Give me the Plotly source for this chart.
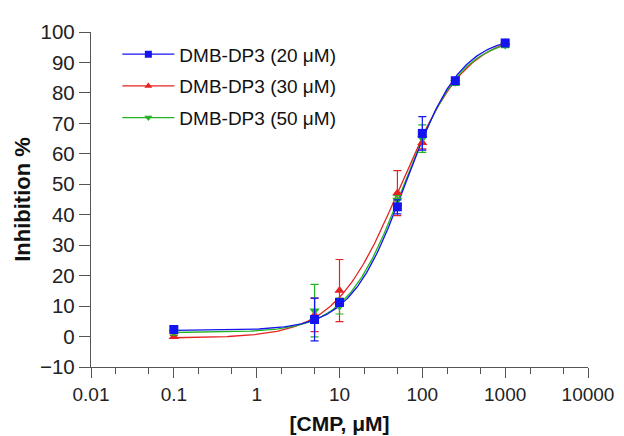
import numpy as np
import plotly.graph_objects as go

# Concentrations (µM)
conc = [0.1, 5, 10, 50, 100, 250, 1000]

# Mean inhibition (%) and SD for each series
blue_y = [2.3, 5.6, 11.2, 42.6, 66.7, 84.0, 96.4]
blue_err = [1.3, 7.0, 1.3, 2.3, 5.5, 1.0, 0.8]
red_y = [-0.1, 7.1, 15.1, 47.1, 63.6, 83.5, 96.5]
red_err = [0.5, 5.5, 10.2, 7.4, 2.0, 1.0, 0.8]
green_y = [1.5, 8.5, 10.0, 44.8, 65.0, 83.5, 95.7]
green_err = [1.0, 8.6, 2.6, 1.5, 4.5, 1.0, 0.8]

names = ["DMB-DP3 (20 μM)", "DMB-DP3 (30 μM)", "DMB-DP3 (50 μM)"]
colors = ["#1414F0", "#E52222", "#22B422"]
symbols = ["square", "triangle-up", "triangle-down"]

# Four-parameter logistic fit parameters:
# bottom, top, EC50 (µM), Hill slope
fit_blue = (2.0, 99.0, 63.0, 1.3)
fit_red = (-0.5, 100.0, 55.0, 1.1)
fit_green = (1.3, 98.5, 60.0, 1.25)

x_ticks = [0.01, 0.1, 1, 10, 100, 1000, 10000]
x_ticklabels = ["0.01", "0.1", "1", "10", "100", "1000", "10000"]
y_ticks = list(range(-10, 101, 10))

FONT = "Arial, Liberation Sans, sans-serif"


def logistic(x, p):
    b, t, ec, h = p
    x = np.asarray(x, dtype=float)
    return b + (t - b) / (1 + (ec / x) ** h)


xs = np.logspace(-1, 3, 300)

series = [
    (blue_y, blue_err, fit_blue),
    (red_y, red_err, fit_red),
    (green_y, green_err, fit_green),
]

fig = go.Figure()

# legend entries
for i in range(3):
    fig.add_trace(go.Scatter(
        x=[None], y=[None], mode="lines+markers", name=names[i],
        line=dict(color=colors[i], width=1.3),
        marker=dict(color=colors[i], symbol=symbols[i], size=7),
        legendgroup=f"g{i}",
    ))

draw_order = [1, 2, 0]
for i in draw_order:
    ys, es, fp = series[i]
    fig.add_trace(go.Scatter(
        x=xs, y=logistic(xs, fp), mode="lines",
        line=dict(color=colors[i], width=1.3),
        showlegend=False, hoverinfo="skip",
    ))
for i in draw_order:
    ys, es, fp = series[i]
    fig.add_trace(go.Scatter(
        x=conc, y=ys, mode="markers",
        marker=dict(color=colors[i], symbol=symbols[i], size=9),
        error_y=dict(type="data", array=es, visible=True,
                     color=colors[i], thickness=1.2, width=4),
        showlegend=False,
    ))

fig.update_layout(
    width=624, height=436,
    margin=dict(l=83, r=44, t=23, b=72),
    paper_bgcolor="white", plot_bgcolor="white",
    font=dict(family=FONT, color="#222222", size=20),
    legend=dict(
        x=0.053, y=0.99, xanchor="left", yanchor="top",
        font=dict(family=FONT, size=19, color="#111111"),
        bgcolor="rgba(0,0,0,0)", tracegroupgap=4, itemwidth=52,
    ),
    xaxis=dict(
        type="log", range=[-2, 4],
        tickvals=x_ticks, ticktext=x_ticklabels,
        ticks="outside", ticklen=10, tickwidth=1.3, tickcolor="#555555",
        showline=True, linecolor="#555555", linewidth=1.3,
        showgrid=False, zeroline=False,
        tickfont=dict(size=19, color="#222222"),
        minor=dict(ticks="outside", ticklen=6, tickwidth=1.1,
                   tickcolor="#555555", showgrid=False),
        title=dict(text="<b>[CMP, μM]</b>", font=dict(size=21, color="#111111"),
                   standoff=12),
    ),
    yaxis=dict(
        range=[-10, 100], tickvals=y_ticks,
        ticks="outside", ticklen=11, tickwidth=1.3, tickcolor="#555555",
        showline=True, linecolor="#555555", linewidth=1.3,
        showgrid=False, zeroline=False,
        tickfont=dict(size=20.5, color="#222222"),
        title=dict(text="<b>Inhibition %</b>", font=dict(size=22, color="#111111"),
                   standoff=3),
    ),
)

fig.write_html("out.html")
